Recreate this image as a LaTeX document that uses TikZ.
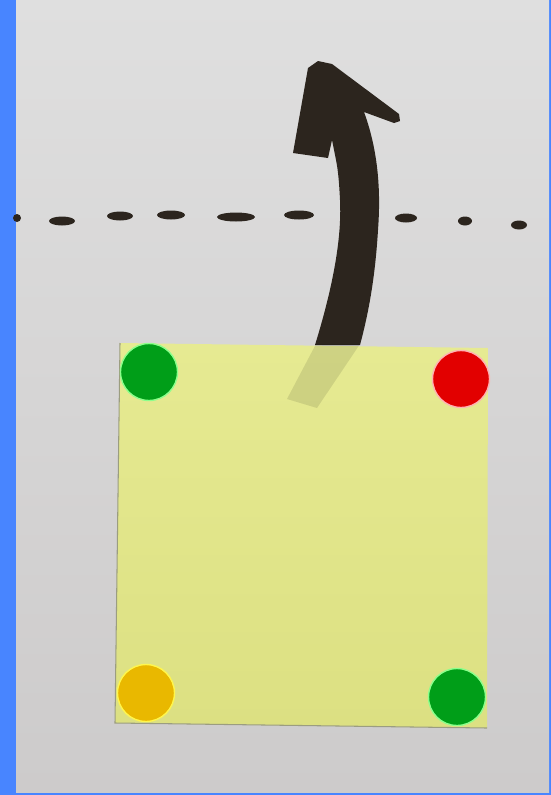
\documentclass[tikz,border=0pt]{standalone}
\usepackage{xcolor}
\usepackage{tikz}
\usetikzlibrary{calc}

\definecolor{frameblue}{RGB}{72,133,255}
\definecolor{papertop}{RGB}{223,223,223}
\definecolor{paperbot}{RGB}{205,203,203}
\definecolor{notetop}{RGB}{230,234,146}
\definecolor{notebot}{RGB}{220,224,130}
\definecolor{ink}{RGB}{44,37,30}
\definecolor{dotgreen}{RGB}{0,158,24}
\definecolor{dotred}{RGB}{226,0,0}
\definecolor{dotorange}{RGB}{233,184,0}

\begin{document}
\begin{tikzpicture}[x=0.02cm,y=-0.02cm,
    sticker/.style={circle, minimum size=1.14cm, inner sep=0pt},
    halo/.style={draw=#1, line width=0.8pt}]
            % fix the page
            \useasboundingbox (0,0) rectangle (551,795);

            % blue frame and paper
            \fill[frameblue] (0,0) rectangle (551,795);
            \shade[top color=papertop, bottom color=paperbot] (16,0) rectangle (549,792);

            % Draw dashed line
            \fill[ink] (17,218) circle[radius=4];
            \foreach \cx/\cy/\rx in {62/221/13, 120/216/13, 171/215/14, 236/217/19, 299/215/15, 406/218/11, 465/221/7, 519/225/8} {
              \fill[ink] (\cx,\cy) circle[x radius=\rx, y radius=4.5];
            }

            % Draw arrow
            \fill[ink] (315,345) .. controls (332,290) and (342,240) .. (340,200)
                .. controls (339,180) and (338,170) .. (336,160) -- (332,140) -- (328,158)
                -- (293,153) -- (308,68) -- (318,61) -- (332,64) -- (399,114) -- (400,121)
                -- (394,123) -- (364,112) .. controls (378,150) and (381,190) .. (378,230)
                .. controls (375,280) and (368,315) .. (360,345) -- cycle;

            % sticky note
            \coordinate (nw) at (120,343);
            \coordinate (ne) at (488,348);
            \coordinate (se) at (487,728);
            \coordinate (sw) at (115,723);
            \shade[top color=notetop, bottom color=notebot] (nw) -- (ne) -- (se) -- (sw) -- cycle;
            \draw[gray!70!notebot, line width=0.6pt] (nw) -- (sw) -- (se);

            % arrow seen through the note
            \fill[black, opacity=0.1] (316,344) -- (360,344) -- (317,408) -- (287,399) -- cycle;

            % Add stickers
            \node[sticker, fill=dotgreen, halo=green!45] (dotNW) at (149,372) {};
            \node[sticker, fill=dotred, halo=red!30] (dotNE) at (461,379) {};
            \node[sticker, fill=dotorange, halo=yellow!70] (dotSW) at (146,693) {};
            \node[sticker, fill=dotgreen, halo=green!45] (dotSE) at (457,697) {};
        \end{tikzpicture}
\end{document}
